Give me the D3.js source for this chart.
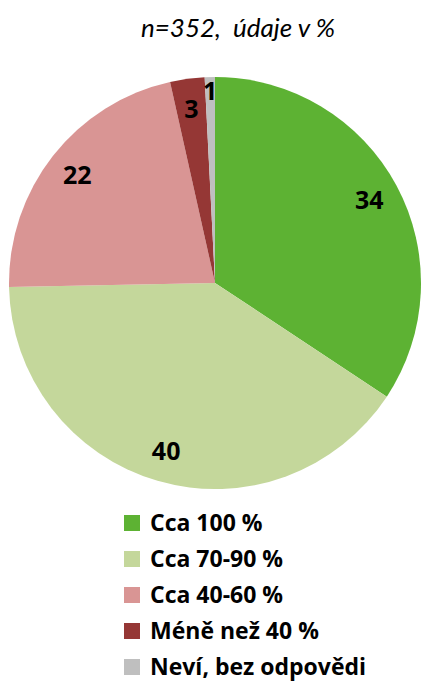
<!doctype html>
<meta charset="utf-8">
<title>Pie</title>
<script src="https://cdn.jsdelivr.net/npm/d3@7"></script>
<style>
body, html { margin: 0; background: #fff; }
text { font-family: "Open Sans", Lato, sans-serif; }
</style>
<svg id="chart" width="422" height="682"></svg>
<script>
// categories + values (labels shown rounded)
var categories = ["Cca 100 %", "Cca 70-90 %", "Cca 40-60 %", "Méně než 40 %", "Neví, bez odpovědi"];
var values = [34.3, 40.4, 21.8, 2.7, 0.8];
var colors = ["#5DB233", "#C4D79B", "#D99594", "#953735", "#BFBFBF"];
var title = "n=352,  údaje v %";

var svg = d3.select("#chart");
var cx = 215, cy = 283, r = 206;

svg.append("text")
  .attr("x", 238).attr("y", 37)
  .attr("text-anchor", "middle")
  .style("font-family", "Lato, sans-serif")
  .style("font-style", "italic")
  .style("font-size", "26px")
  .style("white-space", "pre")
  .text(title);

var pie = d3.pie().sort(null).value(d => d.v);
var data = pie(values.map((v, i) => ({v: v, i: i})));
var arc = d3.arc().innerRadius(0).outerRadius(r);

var g = svg.append("g").attr("transform", "translate(" + cx + "," + cy + ")");

g.selectAll("path")
  .data(data)
  .enter().append("path")
  .attr("d", arc)
  .attr("fill", d => colors[d.data.i]);

// labels, small slices pushed a bit outward
g.selectAll("text.lbl")
  .data(data)
  .enter().append("text")
  .attr("class", "lbl")
  .attr("transform", function(d) {
    var k = d.data.v < 2 ? 0.93 : 0.85;
    var c = d3.arc().innerRadius(r * k).outerRadius(r * k).centroid(d);
    return "translate(" + c[0] + "," + c[1] + ")";
  })
  .attr("text-anchor", "middle")
  .attr("dy", "0.36em")
  .style("font-weight", "bold")
  .style("font-size", "25px")
  .text(d => Math.round(d.data.v));

// legend
var legend = svg.append("g").attr("transform", "translate(124,523)");
var rows = legend.selectAll("g")
  .data(categories)
  .enter().append("g")
  .attr("transform", (d, i) => "translate(0," + (i * 36) + ")");

rows.append("rect")
  .attr("x", 0).attr("y", -8)
  .attr("width", 16).attr("height", 16)
  .attr("fill", (d, i) => colors[i]);

rows.append("text")
  .attr("x", 26).attr("y", 0)
  .attr("dy", "0.36em")
  .style("font-weight", "bold")
  .style("font-size", "23px")
  .style("white-space", "pre")
  .text(d => d);
</script>
